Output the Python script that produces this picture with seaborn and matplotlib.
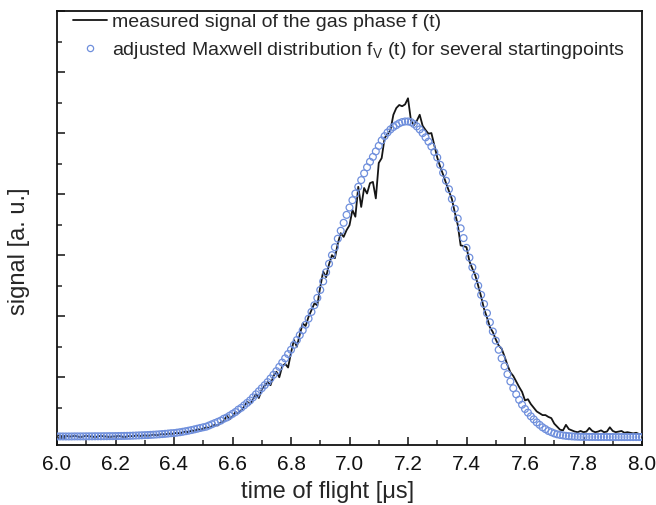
import numpy as np
import pandas as pd
import matplotlib
matplotlib.use("Agg")
import matplotlib.pyplot as plt
from matplotlib.lines import Line2D
from matplotlib.ticker import MultipleLocator, NullFormatter
import seaborn as sns

# time axis in microseconds (0.01 us steps, 6.00 .. 8.00)
time_us = [round(6.0 + 0.01 * i, 2) for i in range(201)]

measured = [
    0.05, 0.04, 0.03, 0.04, 0.03, 0.03, 0.04, 0.03, 0.02, 0.03,
    0.04, 0.03, 0.03, 0.02, 0.03, 0.04, 0.03, 0.03, 0.02, 0.03,
    0.03, 0.04, 0.03, 0.02, 0.03, 0.04, 0.03, 0.05, 0.04, 0.04,
    0.05, 0.04, 0.05, 0.06, 0.05, 0.06, 0.07, 0.06, 0.08, 0.07,
    0.08, 0.09, 0.08, 0.10, 0.11, 0.10, 0.13, 0.12, 0.15, 0.14,
    0.16, 0.18, 0.17, 0.20, 0.22, 0.21, 0.26, 0.28, 0.37, 0.31,
    0.36, 0.43, 0.41, 0.46, 0.52, 0.60, 0.56, 0.64, 0.72, 0.66,
    0.80, 0.86, 0.92, 0.87, 1.02, 1.09, 1.00, 1.18, 1.22, 1.16,
    1.40, 1.61, 1.50, 1.70, 1.88, 1.84, 1.99, 2.10, 2.21, 2.18,
    2.48, 2.73, 2.64, 2.85, 3.00, 2.95, 3.19, 3.36, 3.30, 3.41,
    3.49, 3.74, 3.63, 4.12, 3.79, 4.10, 4.01, 4.18, 4.20, 3.93,
    4.51, 4.59, 4.92, 4.98, 5.05, 5.30, 5.41, 5.46, 5.44, 5.47,
    5.57, 5.21, 5.13, 5.20, 5.30, 5.12, 5.05, 4.99, 5.00, 4.80,
    4.60, 4.45, 4.32, 4.18, 4.05, 3.92, 3.70, 3.50, 3.16, 3.15,
    3.13, 2.90, 2.78, 2.67, 2.50, 2.32, 2.12, 1.98, 1.82, 1.74,
    1.62, 1.52, 1.47, 1.34, 1.20, 1.08, 1.02, 0.93, 0.84, 0.76,
    0.62, 0.64, 0.56, 0.50, 0.44, 0.41, 0.38, 0.38, 0.35, 0.33,
    0.24, 0.19, 0.14, 0.13, 0.22, 0.15, 0.13, 0.11, 0.10, 0.12,
    0.10, 0.11, 0.17, 0.12, 0.10, 0.11, 0.13, 0.10, 0.11, 0.18,
    0.12, 0.10, 0.11, 0.12, 0.09, 0.10, 0.09, 0.08, 0.09, 0.07,
    0.07,
]

maxwell_fit = [
    0.030, 0.030, 0.030, 0.030, 0.030, 0.030, 0.031, 0.031, 0.031, 0.031,
    0.032, 0.032, 0.032, 0.033, 0.033, 0.033, 0.034, 0.034, 0.035, 0.035,
    0.036, 0.037, 0.038, 0.039, 0.040, 0.041, 0.043, 0.045, 0.047, 0.049,
    0.051, 0.053, 0.056, 0.059, 0.062, 0.065, 0.069, 0.073, 0.078, 0.083,
    0.085, 0.092, 0.099, 0.107, 0.116, 0.125, 0.135, 0.146, 0.157, 0.169,
    0.18, 0.19, 0.21, 0.23, 0.25, 0.27, 0.29, 0.32, 0.34, 0.37,
    0.40, 0.43, 0.47, 0.50, 0.54, 0.58, 0.62, 0.67, 0.72, 0.77,
    0.82, 0.87, 0.92, 0.98, 1.04, 1.10, 1.17, 1.24, 1.31, 1.38,
    1.45, 1.53, 1.61, 1.69, 1.77, 1.86, 1.96, 2.07, 2.18, 2.30,
    2.43, 2.57, 2.72, 2.86, 3.00, 3.13, 3.27, 3.40, 3.53, 3.66,
    3.78, 3.90, 4.01, 4.12, 4.23, 4.34, 4.44, 4.53, 4.61, 4.70,
    4.79, 4.88, 4.95, 5.01, 5.06, 5.10, 5.13, 5.16, 5.18, 5.19,
    5.19, 5.18, 5.15, 5.11, 5.06, 5.00, 4.93, 4.86, 4.78, 4.69,
    4.60, 4.48, 4.35, 4.22, 4.08, 3.92, 3.76, 3.60, 3.44, 3.28,
    3.12, 2.96, 2.80, 2.65, 2.50, 2.35, 2.20, 2.05, 1.90, 1.75,
    1.60, 1.45, 1.31, 1.18, 1.05, 0.93, 0.82, 0.72, 0.63, 0.55,
    0.48, 0.42, 0.36, 0.31, 0.26, 0.22, 0.18, 0.15, 0.12, 0.10,
    0.080, 0.065, 0.055, 0.047, 0.040, 0.035, 0.031, 0.028, 0.026, 0.024,
    0.023, 0.023, 0.022, 0.022, 0.022, 0.021, 0.021, 0.021, 0.021, 0.020,
    0.020, 0.020, 0.020, 0.020, 0.020, 0.020, 0.020, 0.020, 0.020, 0.020,
    0.020,
]

x_ticks = [6.0, 6.2, 6.4, 6.6, 6.8, 7.0, 7.2, 7.4, 7.6, 7.8, 8.0]
x_tick_labels = ["6.0", "6.2", "6.4", "6.6", "6.8", "7.0", "7.2", "7.4", "7.6", "7.8", "8.0"]
label_measured = "measured signal of the gas phase f (t)"
label_fit = r"adjusted Maxwell distribution f$_\mathregular{V}$ (t) for several startingpoints"
x_label = "time of flight [\u03bcs]"
y_label = "signal [a. u.]"

df = pd.DataFrame({"t": time_us, "measured": measured, "fit": maxwell_fit})

sns.set_style("ticks")
plt.rcParams["font.family"] = ["Liberation Sans", "DejaVu Sans"]
plt.rcParams["mathtext.fontset"] = "custom"
plt.rcParams["mathtext.rm"] = "Liberation Sans"

fig = plt.figure(figsize=(6.56, 5.05), dpi=100)
ax = fig.add_axes([57 / 656, 1 - 445 / 505, 585 / 656, 434 / 505])

line_color = "#151515"
circ_color = "#6f8fdc"

sns.lineplot(data=df, x="t", y="measured", ax=ax, color=line_color, linewidth=1.3,
             zorder=2, legend=False)
sns.scatterplot(data=df, x="t", y="fit", ax=ax, marker="o", s=24,
                facecolors="none", edgecolor=circ_color, linewidth=0.9,
                zorder=3, legend=False)

ax.set_xlim(6.0, 8.0)
ax.set_ylim(-0.11, 7.0)
ax.set_xticks(x_ticks)
ax.set_xticklabels(x_tick_labels)
ax.xaxis.set_minor_locator(MultipleLocator(0.1))
ax.yaxis.set_major_locator(MultipleLocator(1.0))
ax.yaxis.set_minor_locator(MultipleLocator(0.5))
ax.yaxis.set_major_formatter(NullFormatter())
ax.tick_params(axis="both", which="major", direction="in", length=6, width=1.1,
               labelsize=15, colors="#111111")
ax.tick_params(axis="both", which="minor", direction="in", length=3.5, width=1.1)
ax.tick_params(axis="x", pad=7)
for s in ax.spines.values():
    s.set_linewidth(1.3)
    s.set_color("#111111")
    s.set_visible(True)

ax.set_xlabel(x_label, fontsize=17)
ax.set_ylabel(y_label, fontsize=17)
ax.xaxis.set_label_coords(0.463, -0.083)
ax.yaxis.set_label_coords(-0.047, 0.447)

handles = [
    Line2D([0], [0], color=line_color, linewidth=1.3),
    Line2D([0], [0], linestyle="none", marker="o", markersize=4.5,
           markerfacecolor="none", markeredgecolor=circ_color, markeredgewidth=0.9),
]
ax.legend(handles, [label_measured, label_fit], loc="upper left",
          bbox_to_anchor=(0.027, 0.995), frameon=False, fontsize=14,
          borderaxespad=0, borderpad=0, handlelength=1.75, handletextpad=0.25,
          labelspacing=0.45)

fig.savefig("out.png", dpi=100)
